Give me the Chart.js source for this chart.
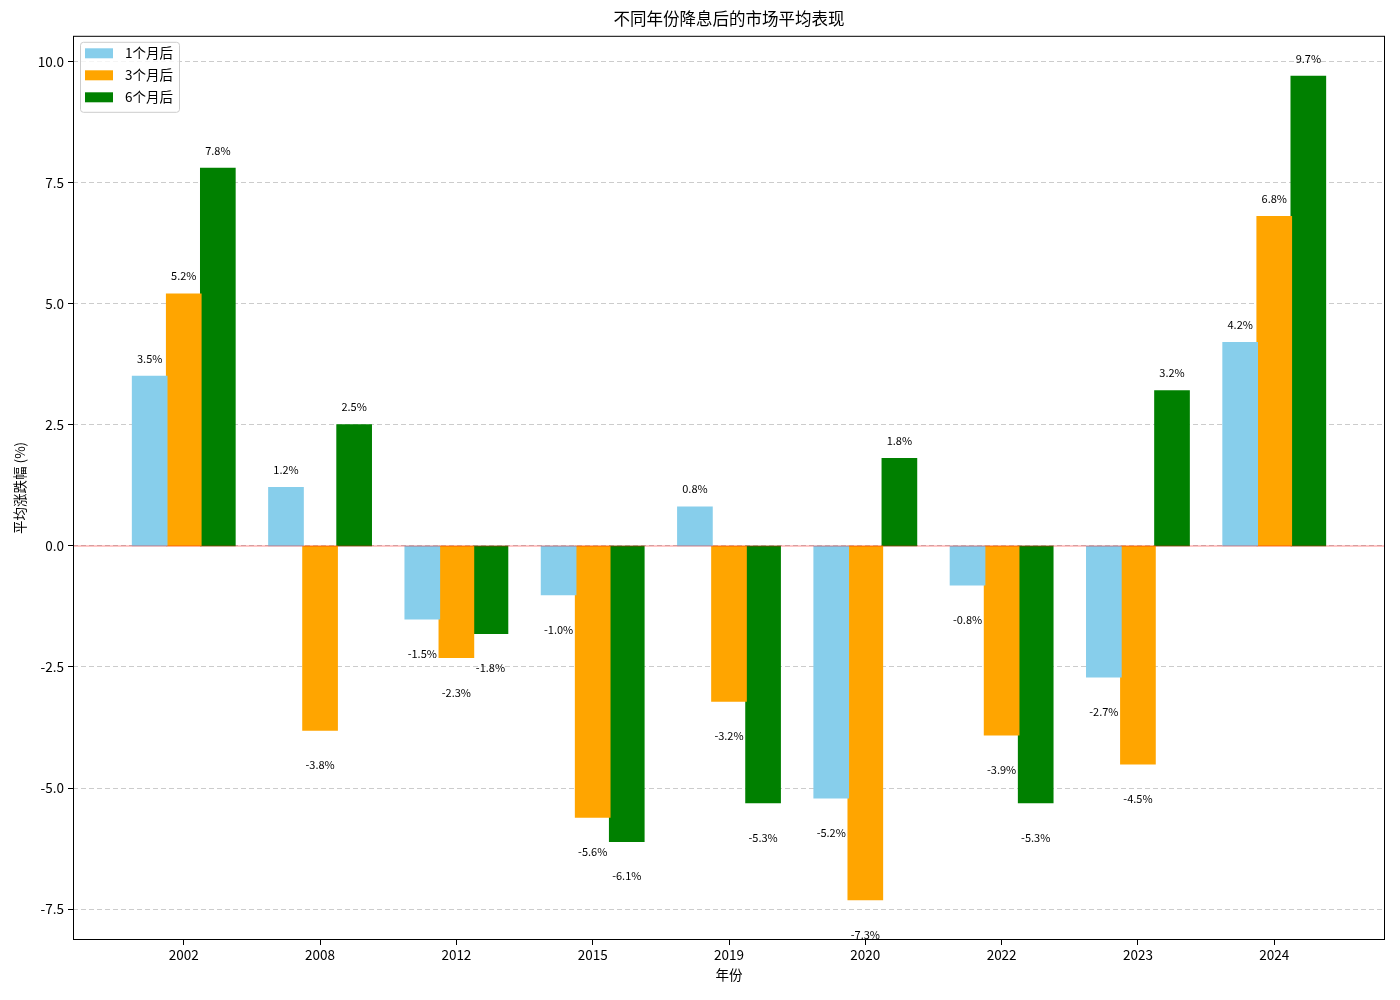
<!DOCTYPE html>
<html>
<head>
<meta charset="utf-8">
<script src="https://cdn.jsdelivr.net/npm/chart.js@4.4.1/dist/chart.umd.min.js"></script>
<style>
  body { margin: 0; background: #fff; }
</style>
</head>
<body>
<canvas id="myChart" width="1400" height="1000"></canvas>
<script>
  // data
  var years = ["2002", "2008", "2012", "2015", "2019", "2020", "2022", "2023", "2024"];
  var month1 = [3.5, 1.2, -1.5, -1.0, 0.8, -5.2, -0.8, -2.7, 4.2];
  var month3 = [5.2, -3.8, -2.3, -5.6, -3.2, -7.3, -3.9, -4.5, 6.8];
  var month6 = [7.8, 2.5, -1.8, -6.1, -5.3, 1.8, -5.3, 3.2, 9.7];
  var yTicks = [-7.5, -5.0, -2.5, 0.0, 2.5, 5.0, 7.5, 10.0];

  var FONT = "'Noto Sans CJK SC', 'DejaVu Sans', sans-serif";

  function points(arr) {
    return arr.map(function (v, i) { return { x: i, y: v }; });
  }

  // value labels, zero line, frame and legend
  var extras = {
    id: "extras",
    afterDatasetsDraw: function (chart) {
      var c = chart.ctx, a = chart.chartArea;
      var y0 = chart.scales.y.getPixelForValue(0);
      c.save();
      c.strokeStyle = "rgba(255,0,0,0.3)";
      c.lineWidth = 1.5;
      c.beginPath();
      c.moveTo(a.left, y0);
      c.lineTo(a.right, y0);
      c.stroke();

      c.fillStyle = "#000";
      c.font = "11px " + FONT;
      c.textAlign = "center";
      c.textBaseline = "middle";
      chart.data.datasets.forEach(function (ds, di) {
        chart.getDatasetMeta(di).data.forEach(function (el, i) {
          var v = ds.data[i].y;
          var ty = v >= 0 ? el.y - 18 : el.y + 35;
          c.fillText(v.toFixed(1) + "%", el.x, ty);
        });
      });
      c.restore();
    },
    afterDraw: function (chart) {
      var c = chart.ctx, a = chart.chartArea;
      c.save();
      c.strokeStyle = "#000";
      c.lineWidth = 1;
      c.strokeRect(a.left + 0.5, a.top + 0.5, a.right - a.left - 1, a.bottom - a.top - 1);

      // legend box
      var lx = a.left + 7, ly = a.top + 6;
      c.fillStyle = "rgba(255,255,255,0.8)";
      c.strokeStyle = "#cccccc";
      c.beginPath();
      c.roundRect(lx + 0.5, ly + 0.5, 99, 70, 3);
      c.fill();
      c.stroke();
      c.font = "13.5px " + FONT;
      c.textAlign = "left";
      c.textBaseline = "middle";
      chart.data.datasets.forEach(function (ds, i) {
        var cy = ly + 11.5 + i * 22;
        c.fillStyle = ds.backgroundColor;
        c.fillRect(lx + 5, cy - 5, 28, 10);
        c.fillStyle = "#000";
        c.fillText(ds.label, lx + 45, cy);
      });
      c.restore();
    }
  };

  var data = {
    datasets: [
      { label: "1个月后", data: points(month1), backgroundColor: "#87CEEB" },
      { label: "3个月后", data: points(month3), backgroundColor: "#FFA500" },
      { label: "6个月后", data: points(month6), backgroundColor: "#008000" }
    ]
  };

  var options = {
    responsive: false,
    animation: false,
    layout: { padding: { left: 0, right: 15, top: 0, bottom: 0 } },
    datasets: { bar: { categoryPercentage: 0.75, barPercentage: 1.0, inflateAmount: 0.8 } },
    plugins: {
      legend: { display: false },
      tooltip: { enabled: false },
      title: {
        display: true,
        fullSize: false,
        text: "不同年份降息后的市场平均表现",
        color: "#000",
        font: { family: FONT, size: 16.5, weight: "normal" },
        padding: { top: 9, bottom: 7 }
      }
    },
    scales: {
      x: {
        type: "linear",
        offset: false,
        min: -0.8125,
        max: 8.8125,
        afterBuildTicks: function (axis) {
          axis.ticks = years.map(function (_, i) { return { value: i }; });
        },
        afterFit: function (scale) { scale.height = 60; },
        ticks: {
          color: "#000",
          padding: 2,
          maxRotation: 0,
          font: { family: FONT, size: 13.5 },
          callback: function (v) { return years[v]; }
        },
        grid: { offset: false, drawOnChartArea: false, tickLength: 5, tickColor: "#000" },
        border: { display: false },
        title: {
          display: true,
          text: "年份",
          color: "#000",
          font: { family: FONT, size: 13.5 },
          padding: { top: 0, bottom: 17 }
        }
      },
      y: {
        min: -8.14,
        max: 10.54,
        afterBuildTicks: function (axis) {
          axis.ticks = yTicks.map(function (v) { return { value: v }; });
        },
        afterFit: function (scale) { scale.width = 73; },
        ticks: {
          color: "#000",
          padding: 4,
          font: { family: FONT, size: 13.5 },
          callback: function (v) { return v.toFixed(1); }
        },
        grid: {
          color: "#cccccc",
          tickColor: "#000",
          tickLength: 5,
          tickBorderDash: []
        },
        border: { display: false, dash: [5, 3] },
        title: {
          display: true,
          text: "平均涨跌幅 (%)",
          color: "#000",
          font: { family: FONT, size: 13.5 },
          padding: { top: 12, bottom: 0 }
        }
      }
    }
  };

  var ctx = document.getElementById("myChart");
  var chart = new Chart(ctx, {
    type: "bar",
    data: data,
    options: options,
    plugins: [extras]
  });
</script>
</body>
</html>
